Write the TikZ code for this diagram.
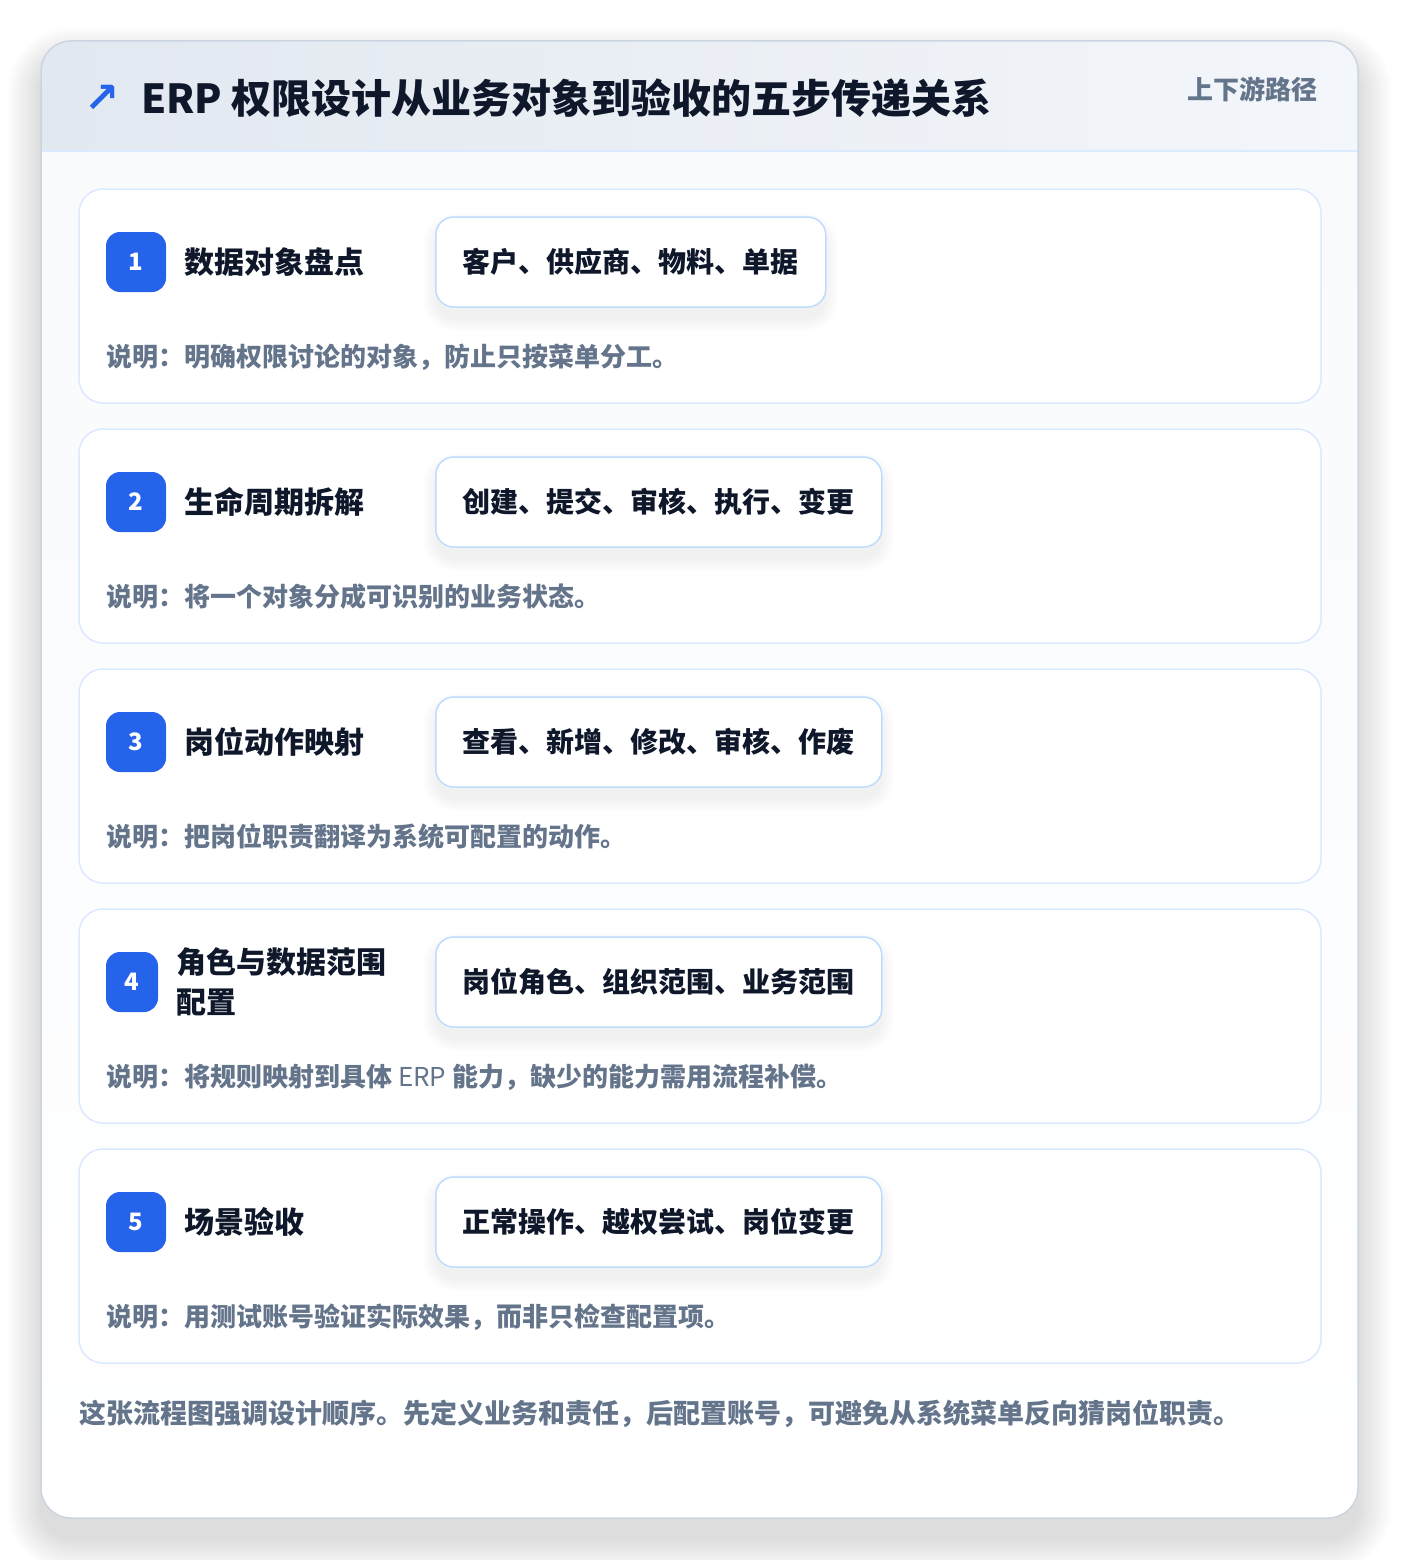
\documentclass[tikz,border=0pt]{standalone}
\usepackage{fontspec}
\setmainfont{Noto Sans CJK SC}
\newfontfamily\symfont{DejaVu Sans}
\usetikzlibrary{calc}
\definecolor{cardborder}{RGB}{203,213,225}
\definecolor{hdrL}{RGB}{226,232,240}
\definecolor{hdrR}{RGB}{243,246,250}
\definecolor{bodyfill}{RGB}{248,250,252}
\definecolor{stepborder}{RGB}{219,234,254}
\definecolor{chipborder}{RGB}{191,219,254}
\definecolor{badgecol}{RGB}{37,99,235}
\definecolor{titlecol}{RGB}{15,23,42}
\definecolor{mutedcol}{RGB}{100,116,139}
\pgfdeclarelayer{bg}
\pgfdeclarelayer{sh}
\pgfsetlayers{bg,sh,main}
\tikzset{
  stepcard/.style={draw=stepborder, line width=1.5pt, fill=white, rounded corners=24pt},
  badge/.style={fill=badgecol, rounded corners=14pt, minimum height=60pt, inner sep=0pt,
    text=white, font=\fontsize{24}{28}\selectfont\bfseries},
  steptitle/.style={anchor=west, inner sep=0pt, text=titlecol, font=\fontsize{30}{40}\selectfont\bfseries},
  chip/.style={anchor=west, draw=chipborder, line width=1.5pt, fill=white, rounded corners=18pt,
    minimum height=90pt, inner xsep=27pt, inner ysep=0pt, text=titlecol,
    font=\fontsize{28}{34}\selectfont\bfseries},
  desc/.style={anchor=west, inner sep=0pt, text=mutedcol, font=\fontsize{26}{32}\selectfont\bfseries},
}
\newcommand\mystep[7]{% #1 idx, #2 y0, #3 title, #4 chip, #5 desc, #6 badge width, #7 title x
  \begin{pgfonlayer}{bg}
    \draw[stepcard] (79,#2) rectangle (1321,#2+214);
  \end{pgfonlayer}
  \node[badge, minimum width=#6pt] (b#1) at (106+#6/2,#2+73) {#1};
  \node[steptitle, align=left] (t#1) at (#7,#2+73) {#3};
  \node[chip] (c#1) at (435,#2+73) {#4};
  \begin{pgfonlayer}{sh}
    \foreach \k in {1,...,14}{
      \fill[black, opacity=0.004, rounded corners=18pt+\k pt]
        ($(c#1.north west)+(-\k+2,10-\k)$) rectangle ($(c#1.south east)+(\k-2,10+\k)$);
    }
  \end{pgfonlayer}
  \node[desc] (d#1) at (106,#2+168) {#5};
}
\begin{document}
\begin{tikzpicture}[x=1pt,y=-1pt]
\useasboundingbox (0,0) rectangle (1400,1560);
\begin{pgfonlayer}{bg}
  \fill[white] (0,0) rectangle (1400,1560);
  \foreach \k in {1,...,34}{
    \fill[black, opacity=0.0022, rounded corners=30pt+\k pt]
      (41-\k,41-\k+20) rectangle (1358+\k,1518+\k+20);
  }
  \begin{scope}
    \clip[rounded corners=30pt] (41,41) rectangle (1358,1518);
    \shade[top color=bodyfill, bottom color=white] (41,151) rectangle (1358,1518);
    \shade[left color=hdrL, right color=hdrR] (41,41) rectangle (1358,151);
    \draw[stepborder, line width=1.5pt] (41,151) -- (1358,151);
  \end{scope}
  \draw[cardborder, line width=1.5pt, rounded corners=30pt] (41,41) rectangle (1358,1518);
\end{pgfonlayer}
\node[anchor=center, inner sep=0pt, text=badgecol, font=\symfont\bfseries\fontsize{42}{48}\selectfont] (icon) at (102,99) {↗};
\node[anchor=west, inner sep=0pt, text=titlecol, font=\fontsize{40}{48}\selectfont\bfseries] (title) at (141,98) {ERP 权限设计从业务对象到验收的五步传递关系};
\node[anchor=east, inner sep=0pt, text=mutedcol, font=\fontsize{26}{32}\selectfont\bfseries] (tag) at (1318,89) {上下游路径};
\mystep{1}{189}{数据对象盘点}{客户、供应商、物料、单据}{说明：明确权限讨论的对象，防止只按菜单分工。}{60}{184}
\mystep{2}{429}{生命周期拆解}{创建、提交、审核、执行、变更}{说明：将一个对象分成可识别的业务状态。}{60}{184}
\mystep{3}{669}{岗位动作映射}{查看、新增、修改、审核、作废}{说明：把岗位职责翻译为系统可配置的动作。}{60}{184}
\mystep{4}{909}{角色与数据范围\\配置}{岗位角色、组织范围、业务范围}{说明：将规则映射到具体 {\mdseries ERP} 能力，缺少的能力需用流程补偿。}{52}{176}
\mystep{5}{1149}{场景验收}{正常操作、越权尝试、岗位变更}{说明：用测试账号验证实际效果，而非只检查配置项。}{60}{184}
\node[anchor=west, inner sep=0pt, text=mutedcol, font=\fontsize{27}{32}\selectfont\bfseries] (note) at (79,1414) {这张流程图强调设计顺序。先定义业务和责任，后配置账号，可避免从系统菜单反向猜岗位职责。};
\end{tikzpicture}
\end{document}
